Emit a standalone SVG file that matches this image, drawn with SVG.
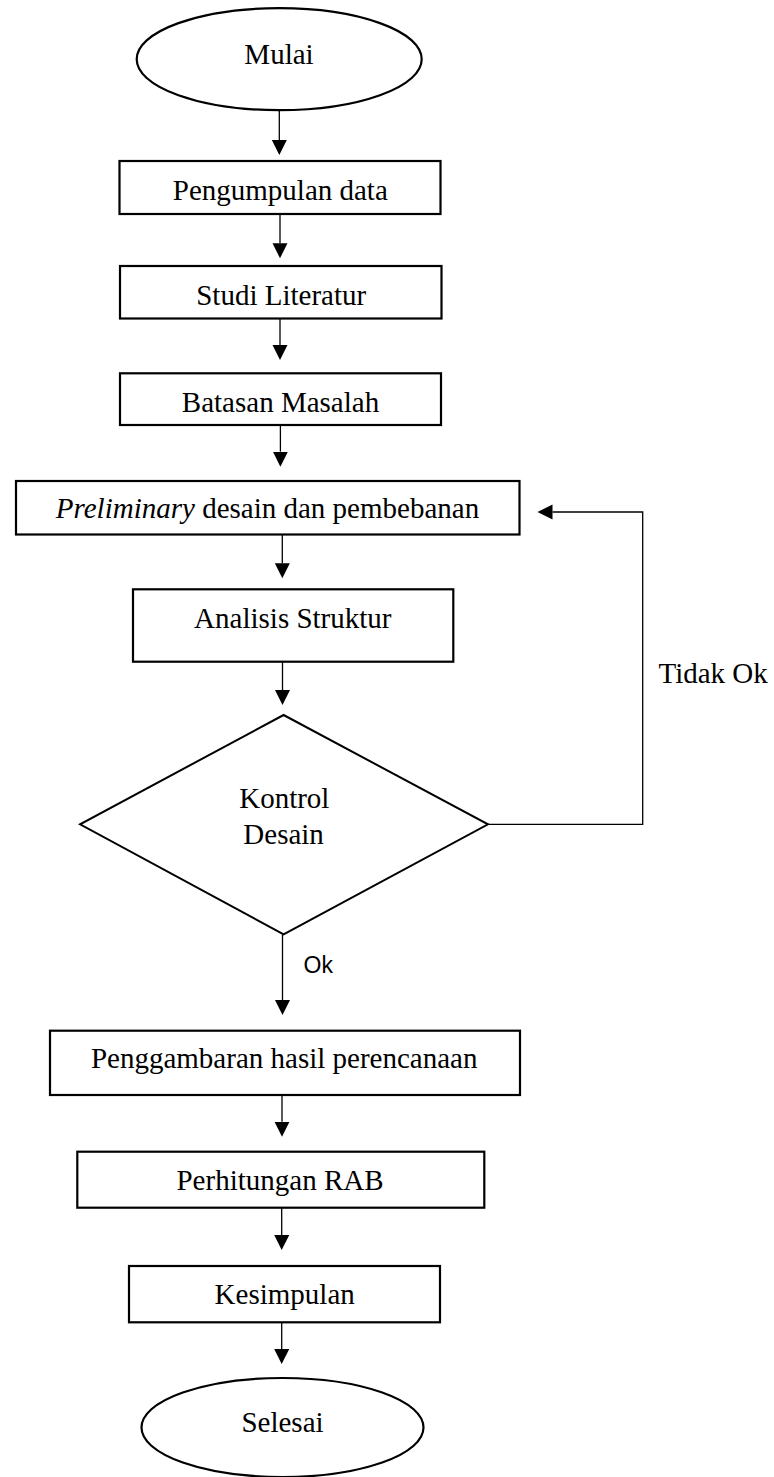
<svg xmlns="http://www.w3.org/2000/svg" width="774" height="1477" viewBox="0 0 774 1477">
<style>
.box{fill:#fff;stroke:#000;stroke-width:2.2}
.conn{fill:none;stroke:#000;stroke-width:1.3}
.t{font-family:"Liberation Serif","Times New Roman",serif;font-size:29px;fill:#000;text-anchor:middle}
.s{font-family:"Liberation Sans",Arial,sans-serif;font-size:23px;fill:#000}
</style>
<defs>
<marker id="ah" markerUnits="userSpaceOnUse" markerWidth="16" markerHeight="16" viewBox="0 0 16 16" refX="0" refY="7.5" orient="auto">
<path d="M0,0 L15,7.5 L0,15 Z" fill="#000"/>
</marker>
</defs>
<rect width="774" height="1477" fill="#fff"/>
<g id="connectors">
<line class="conn" x1="279.3" y1="110" x2="279.3" y2="140" marker-end="url(#ah)"/>
<line class="conn" x1="280" y1="214" x2="280" y2="243.3" marker-end="url(#ah)"/>
<line class="conn" x1="280" y1="318.5" x2="280" y2="345" marker-end="url(#ah)"/>
<line class="conn" x1="280.4" y1="425" x2="280.4" y2="451.7" marker-end="url(#ah)"/>
<line class="conn" x1="282.3" y1="535" x2="282.3" y2="563.3" marker-end="url(#ah)"/>
<line class="conn" x1="282.5" y1="662" x2="282.5" y2="690" marker-end="url(#ah)"/>
<line class="conn" x1="282.5" y1="934.5" x2="282.5" y2="1000" marker-end="url(#ah)"/>
<line class="conn" x1="282" y1="1095" x2="282" y2="1121.7" marker-end="url(#ah)"/>
<line class="conn" x1="281.7" y1="1208" x2="281.7" y2="1235" marker-end="url(#ah)"/>
<line class="conn" x1="281.7" y1="1322.5" x2="281.7" y2="1349" marker-end="url(#ah)"/>
<polyline class="conn" points="488,824.3 642.7,824.3 642.7,512 552.5,512" marker-end="url(#ah)"/>
<text class="s" x="303.5" y="973.3">Ok</text>
<text class="t" x="658.5" y="683" style="text-anchor:start">Tidak Ok</text>
</g>
<g id="mulai">
<ellipse class="box" cx="279.2" cy="59.2" rx="142.5" ry="51"/>
<text class="t" x="279" y="64">Mulai</text>
</g>
<g id="pengumpulan">
<rect class="box" x="119.5" y="161" width="321" height="53"/>
<text class="t" x="280.3" y="200">Pengumpulan data</text>
</g>
<g id="studi">
<rect class="box" x="120" y="266" width="321.5" height="52.5"/>
<text class="t" x="281.2" y="305">Studi Literatur</text>
</g>
<g id="batasan">
<rect class="box" x="120" y="373.3" width="321" height="51.7"/>
<text class="t" x="280.5" y="411.7">Batasan Masalah</text>
</g>
<g id="preliminary">
<rect class="box" x="16" y="481" width="503.5" height="53.5"/>
<text class="t" x="267.5" y="518.3"><tspan font-style="italic">Preliminary</tspan> desain dan pembebanan</text>
</g>
<g id="analisis">
<rect class="box" x="133" y="589.3" width="320.3" height="72.4"/>
<text class="t" x="292.8" y="628.3">Analisis Struktur</text>
</g>
<g id="kontrol">
<polygon class="box" points="283.6,715 488,824.3 283.6,934.3 80.1,824.3" style="stroke-width:2"/>
<text class="t" x="284.3" y="808.3">Kontrol</text>
<text class="t" x="283.6" y="844">Desain</text>
</g>
<g id="penggambaran">
<rect class="box" x="50" y="1030.7" width="470" height="64.3"/>
<text class="t" x="284.2" y="1068.3">Penggambaran hasil perencanaan</text>
</g>
<g id="perhitungan">
<rect class="box" x="77.3" y="1151.7" width="407" height="56"/>
<text class="t" x="280" y="1190">Perhitungan RAB</text>
</g>
<g id="kesimpulan">
<rect class="box" x="129" y="1266" width="311" height="56.3"/>
<text class="t" x="284.7" y="1304">Kesimpulan</text>
</g>
<g id="selesai">
<ellipse class="box" cx="282.5" cy="1427.5" rx="141" ry="49.5"/>
<text class="t" x="282.5" y="1431.7">Selesai</text>
</g>
</svg>
